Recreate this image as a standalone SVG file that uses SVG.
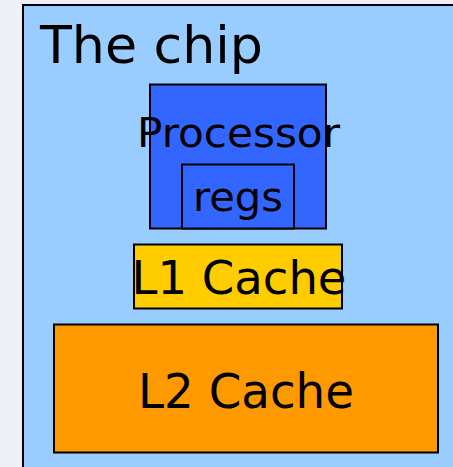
<svg xmlns="http://www.w3.org/2000/svg" width="453" height="467" viewBox="0 0 453 467">
<style>
.box{stroke:#000;stroke-width:2}
.t{font-family:"DejaVu Sans","Verdana",sans-serif;fill:#000}
</style>
<rect x="0" y="0" width="453" height="467" fill="#eef0f7"/>
<g id="chip">
<rect class="box" x="23" y="5" width="440" height="470" fill="#99ccff"/>
<text class="t" x="40" y="63" font-size="51" textLength="223" lengthAdjust="spacingAndGlyphs">The chip</text>
</g>
<g id="processor">
<rect class="box" x="150" y="84.5" width="176" height="144" fill="#3366ff"/>
<text class="t" x="238.5" y="147" font-size="40.5" text-anchor="middle" textLength="203" lengthAdjust="spacingAndGlyphs">Processor</text>
</g>
<g id="regs">
<rect class="box" x="182" y="164.5" width="112" height="64" fill="#3366ff"/>
<text class="t" x="238" y="211" font-size="41.5" text-anchor="middle" textLength="90" lengthAdjust="spacingAndGlyphs">regs</text>
</g>
<g id="l1">
<rect class="box" x="134" y="244.5" width="208" height="64" fill="#ffcc00"/>
<text class="t" x="239" y="294.3" font-size="47" text-anchor="middle" textLength="215" lengthAdjust="spacingAndGlyphs">L1 Cache</text>
</g>
<g id="l2">
<rect class="box" x="54" y="324.5" width="384" height="128" fill="#ff9900"/>
<text class="t" x="246" y="408.3" font-size="48" text-anchor="middle" textLength="216" lengthAdjust="spacingAndGlyphs">L2 Cache</text>
</g>
</svg>
